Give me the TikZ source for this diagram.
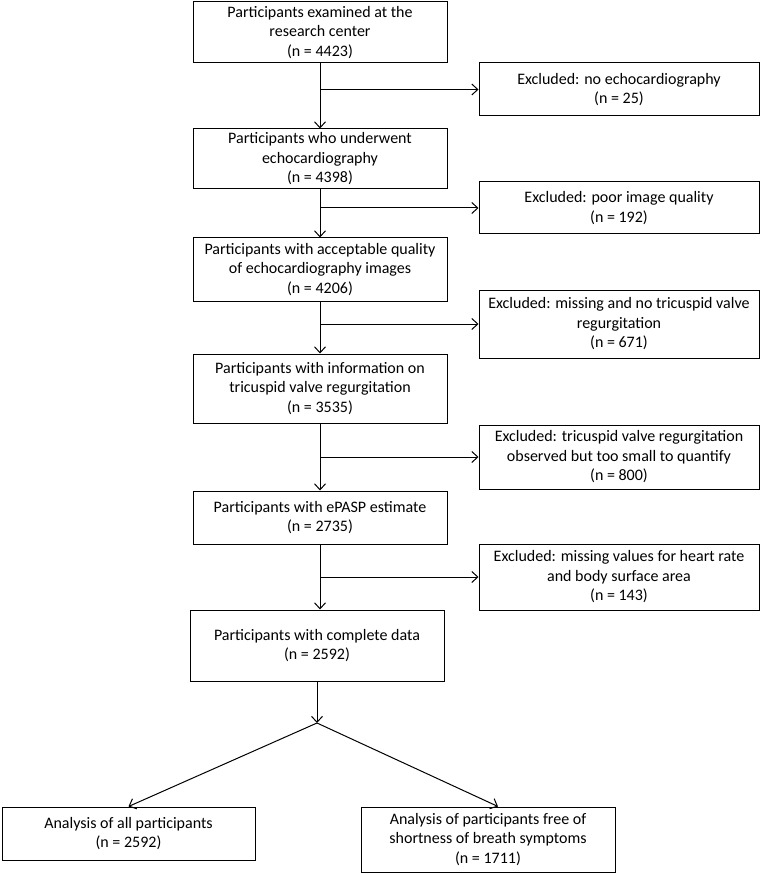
\documentclass[tikz,border=0pt]{standalone}
\usepackage{fontspec}
\setmainfont{Carlito}
\usetikzlibrary{arrows.meta, positioning, calc}

\begin{document}
\begin{tikzpicture}[x=1pt, y=1pt,
    >={Straight Barb[length=6pt,width=11pt]},
    every node/.style={font=\fontsize{16}{19.5}\selectfont, align=center, inner sep=1pt},
    mainbox/.style={draw, line width=1pt, minimum width=254pt},
    exclbox/.style={draw, line width=1pt, minimum width=280pt},
    flow/.style={->, line width=1pt}]
        \useasboundingbox (0,0) rectangle (761,-874);

        % main column
        \node[mainbox, minimum height=61pt] (m1) at (320,-32.5) {Participants examined at the\\research center\\(n = 4423)};
        \node[mainbox, minimum height=60pt] (m2) at (320,-159) {Participants who underwent\\echocardiography\\(n = 4398)};
        \node[mainbox, minimum height=63pt] (m3) at (320,-269.5) {Participants with acceptable quality\\of echocardiography images\\(n = 4206)};
        \node[mainbox, minimum height=69pt] (m4) at (320,-388.5) {Participants with information on\\tricuspid valve regurgitation\\(n = 3535)};
        \node[mainbox, minimum height=53pt] (m5) at (320,-517.5) {Participants with ePASP estimate\\(n = 2735)};
        \node[mainbox, minimum height=71pt] (m6) at (317,-645.5) {Participants with complete data\\(n = 2592)};

        % exclusions
        \node[exclbox, minimum height=53pt] (e1) at (619,-89.5) {Excluded: no echocardiography\\(n = 25)};
        \node[exclbox, minimum height=52pt] (e2) at (619,-208) {Excluded: poor image quality\\(n = 192)};
        \node[exclbox, minimum height=68pt] (e3) at (619,-324) {Excluded: missing and no tricuspid valve\\regurgitation\\(n = 671)};
        \node[exclbox, minimum height=64pt] (e4) at (619,-457) {Excluded: tricuspid valve regurgitation\\observed but too small to quantify\\(n = 800)};
        \node[exclbox, minimum height=66pt] (e5) at (619,-577) {Excluded: missing values for heart rate\\and body surface area\\(n = 143)};

        % analyses
        \node[mainbox, minimum width=253pt, minimum height=53pt] (a1) at (128.5,-833.5) {Analysis of all participants\\(n = 2592)};
        \node[mainbox, minimum height=65pt] (a2) at (488,-839.5) {Analysis of participants free of\\shortness of breath symptoms\\(n = 1711)};

        \draw[flow] (m1) -- (m2);
        \draw[flow] (m2) -- (m3);
        \draw[flow] (m3) -- (m4);
        \draw[flow] (m4) -- (m5);
        \draw[flow] (m5.south) -- (m5.south |- m6.north);

        \foreach \i/\a in {1/m1, 2/m2, 3/m3, 4/m4, 5/m5} {
            \coordinate (b\i) at (\a.south |- e\i.west);
            \draw[flow] (b\i) -- (e\i.west);
        }

        \coordinate (split) at (317,-723);
        \draw[flow] (m6) -- (split);
        \draw[flow] (split) -- (a1.north);
        \draw[flow] (split) -- ([xshift=10pt]a2.north);

      \end{tikzpicture}
\end{document}
